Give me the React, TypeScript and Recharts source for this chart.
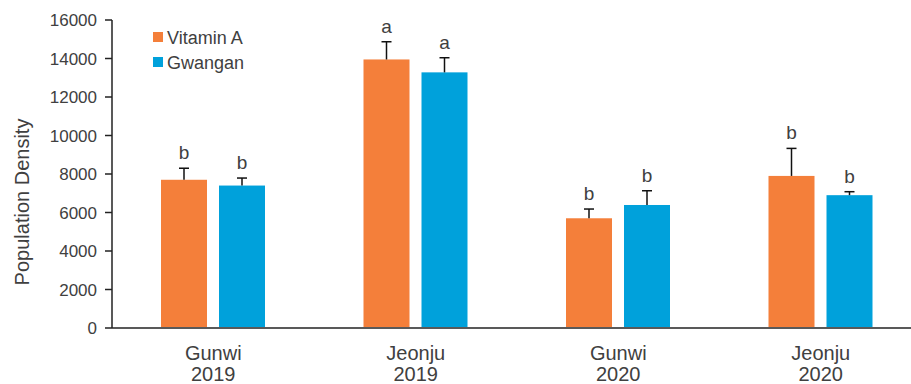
import React from "react";
import {
  BarChart,
  Bar,
  XAxis,
  YAxis,
  Legend,
  Label,
} from "recharts";

const sites = ["Gunwi", "Jeonju", "Gunwi", "Jeonju"];
const years = ["2019", "2019", "2020", "2020"];

const vitaminA = [7700, 13950, 5700, 7900];
const vitaminAErr = [600, 920, 480, 1430];
const vitaminALetters = ["b", "a", "b", "b"];

const gwangan = [7400, 13280, 6390, 6900];
const gwanganErr = [390, 760, 740, 180];
const gwanganLetters = ["b", "a", "b", "b"];

const yTicks = [0, 2000, 4000, 6000, 8000, 10000, 12000, 14000, 16000];

const ORANGE = "#F47F3A";
const BLUE = "#00A1DB";
const TEXT = "#404040";
const FONT = "'Liberation Sans', Arial, sans-serif";

const data = sites.map((site, i) => ({
  name: `${site} ${years[i]}`,
  a: vitaminA[i],
  aErr: vitaminAErr[i],
  aLetter: vitaminALetters[i],
  g: gwangan[i],
  gErr: gwanganErr[i],
  gLetter: gwanganLetters[i],
}));

// bar + upward error whisker + significance letter
const BarWithErr = (props: any) => {
  const { x, y, width, height, fill, payload, valueKey, errKey, letterKey } = props;
  const pxPerUnit = height / payload[valueKey];
  const errTop = y - payload[errKey] * pxPerUnit;
  const cx = x + width / 2;
  return (
    <g>
      <rect x={x} y={y} width={width} height={height} fill={fill} />
      <line x1={cx} y1={y} x2={cx} y2={errTop} stroke="#111" strokeWidth={1.5} />
      <line x1={cx - 5} y1={errTop} x2={cx + 5} y2={errTop} stroke="#111" strokeWidth={1.5} />
      <text
        x={cx}
        y={errTop - 9}
        textAnchor="middle"
        fontSize={19}
        fontFamily={FONT}
        fill={TEXT}
      >
        {payload[letterKey]}
      </text>
    </g>
  );
};

const CategoryTick = (props: any) => {
  const { x, y, index } = props;
  return (
    <text x={x} y={y} textAnchor="middle" fontSize={20} fontFamily={FONT} fill={TEXT}>
      <tspan x={x} dy={24}>{sites[index]}</tspan>
      <tspan x={x} dy={21}>{years[index]}</tspan>
    </text>
  );
};

const LegendBox = () => {
  const items = [
    { label: "Vitamin A", color: ORANGE },
    { label: "Gwangan", color: BLUE },
  ];
  return (
    <svg width={140} height={60} style={{ overflow: "visible", display: "block" }}>
      {items.map((it, i) => (
        <g key={it.label}>
          <rect x={0} y={i * 25} width={10} height={10} fill={it.color} />
          <text x={14} y={i * 25 + 12} fontSize={18} fontFamily={FONT} fill={TEXT}>
            {it.label}
          </text>
        </g>
      ))}
    </svg>
  );
};

export default function App() {
  return (
    <div
      style={{
        position: "absolute",
        left: 0,
        top: 0,
        width: 911,
        height: 384,
        overflow: "hidden",
        background: "#fff",
      }}
    >
      <BarChart
        width={922}
        height={384}
        data={data}
        margin={{ top: 20, right: 0, left: 0, bottom: 0 }}
        barGap={12}
      >
        <XAxis
          dataKey="name"
          height={56}
          tickLine={false}
          axisLine={{ stroke: "#595959", strokeWidth: 2 }}
          tick={<CategoryTick />}
          interval={0}
        />
        <YAxis
          width={112}
          domain={[0, 16000]}
          ticks={yTicks}
          tickSize={7}
          tickMargin={8}
          axisLine={{ stroke: "#222", strokeWidth: 1.5 }}
          tickLine={{ stroke: "#222", strokeWidth: 1.5 }}
          tick={{ fontSize: 17, fontFamily: FONT, fill: TEXT }}
        >
          <Label
            content={() => (
              <text
                x={29}
                y={202}
                transform="rotate(-90 29 202)"
                textAnchor="middle"
                fontSize={20}
                fontFamily={FONT}
                fill={TEXT}
              >
                Population Density
              </text>
            )}
          />
        </YAxis>
        <Legend
          layout="horizontal"
          verticalAlign="middle"
          align="center"
          wrapperStyle={{ left: 153, top: 32, width: 140, height: 60 }}
          content={<LegendBox />}
        />
        <Bar
          dataKey="a"
          name="Vitamin A"
          fill={ORANGE}
          barSize={46}
          isAnimationActive={false}
          shape={(p: any) => (
            <BarWithErr {...p} valueKey="a" errKey="aErr" letterKey="aLetter" />
          )}
        />
        <Bar
          dataKey="g"
          name="Gwangan"
          fill={BLUE}
          barSize={46}
          isAnimationActive={false}
          shape={(p: any) => (
            <BarWithErr {...p} valueKey="g" errKey="gErr" letterKey="gLetter" />
          )}
        />
      </BarChart>
    </div>
  );
}
